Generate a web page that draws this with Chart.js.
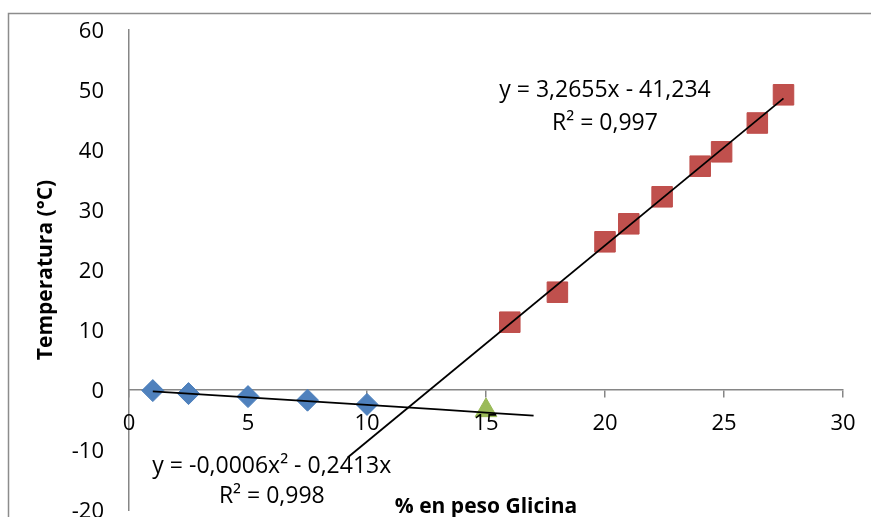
<!DOCTYPE html>
<html>
<head>
<meta charset="utf-8">
<script src="https://cdn.jsdelivr.net/npm/chart.js@4.4.1/dist/chart.umd.min.js"></script>
<style>
  body { margin: 0; background: #fff; overflow: hidden; }
  canvas { display: block; }
</style>
</head>
<body>
<canvas id="glicinaChart" width="871" height="517"></canvas>
<script>
// data
const blueX = [1, 2.5, 5, 7.5, 10];
const blueY = [-0.1, -0.6, -1.1, -1.7, -2.4];
const redX = [16, 18, 20, 21, 22.4, 24, 24.9, 26.4, 27.5];
const redY = [11.3, 16.3, 24.7, 27.7, 32.2, 37.3, 39.7, 44.5, 49.2];
const greenX = [15];
const greenY = [-3.4];

// trendlines (points along the fitted curves shown in the chart)
const polyTrendX = [1, 5, 9, 13, 17];
const polyTrendY = [-0.24, -1.22, -2.22, -3.24, -4.28];
const linTrendX = [9.2, 27.5];
const linTrendY = [-11.2, 48.6];

const xTicks = [0, 5, 10, 15, 20, 25, 30];
const yTicks = [-20, -10, 0, 10, 20, 30, 40, 50, 60];

const eqLinear = ["y = 3,2655x - 41,234", "R² = 0,997"];
const eqPoly = ["y = -0,0006x² - 0,2413x", "R² = 0,998"];
const xTitle = "% en peso Glicina";
const yTitle = "Temperatura (°C)";

function toPoints(xs, ys) {
    return xs.map((x, i) => ({ x: x, y: ys[i] }));
}

const FONT = "'Open Sans', 'DejaVu Sans', sans-serif";
const AXIS_GRAY = "#868686";

// frame, axis titles and trendline equations
const extrasPlugin = {
    id: "extras",
    beforeDraw(chart) {
        const ctx = chart.ctx;
        ctx.save();
        ctx.fillStyle = "#fff";
        ctx.fillRect(0, 0, chart.width, chart.height);
        ctx.strokeStyle = "#8c8c8c";
        ctx.lineWidth = 1.5;
        ctx.beginPath();
        ctx.moveTo(8.5, chart.height);
        ctx.lineTo(8.5, 13.5);
        ctx.lineTo(chart.width, 13.5);
        ctx.stroke();
        ctx.restore();
    },
    afterDraw(chart) {
        const ctx = chart.ctx;
        const xs = chart.scales.x;
        const ys = chart.scales.y;
        const area = chart.chartArea;
        ctx.save();
        ctx.fillStyle = "#000";
        ctx.textAlign = "center";
        ctx.textBaseline = "middle";

        ctx.font = "23px " + FONT;
        ctx.fillText(eqLinear[0], xs.getPixelForValue(20.0), ys.getPixelForValue(50.0));
        ctx.fillText(eqLinear[1], xs.getPixelForValue(20.0), ys.getPixelForValue(44.4));
        ctx.fillText(eqPoly[0], xs.getPixelForValue(6.0), ys.getPixelForValue(-12.7));
        ctx.fillText(eqPoly[1], xs.getPixelForValue(6.0), ys.getPixelForValue(-17.7));

        ctx.font = "bold 21px " + FONT;
        ctx.fillText(xTitle, (area.left + area.right) / 2, 507);

        ctx.translate(46, (area.top + area.bottom) / 2);
        ctx.rotate(-Math.PI / 2);
        ctx.fillText(yTitle, 0, 0);
        ctx.restore();
    }
};

const ctx = document.getElementById("glicinaChart").getContext("2d");
new Chart(ctx, {
    type: "scatter",
    data: {
        datasets: [
            {
                label: "Tendencia lineal",
                data: toPoints(linTrendX, linTrendY),
                showLine: true,
                borderColor: "#000",
                borderWidth: 1.8,
                pointRadius: 0,
                order: 0
            },
            {
                label: "Tendencia polinómica",
                data: toPoints(polyTrendX, polyTrendY),
                showLine: true,
                borderColor: "#000",
                borderWidth: 1.8,
                pointRadius: 0,
                tension: 0.4,
                order: 0
            },
            {
                label: "Hielo",
                data: toPoints(blueX, blueY),
                pointStyle: "rectRot",
                pointRadius: 11,
                backgroundColor: "#4F81BD",
                borderColor: "#4A7EBB",
                borderWidth: 1,
                order: 1
            },
            {
                label: "Glicina",
                data: toPoints(redX, redY),
                pointStyle: "rect",
                pointRadius: 14.5,
                backgroundColor: "#C0504D",
                borderColor: "#BE4B48",
                borderWidth: 1,
                order: 1
            },
            {
                label: "Eutéctico",
                data: toPoints(greenX, greenY),
                pointStyle: "triangle",
                pointRadius: 12.5,
                backgroundColor: "#9BBB59",
                borderColor: "#98B954",
                borderWidth: 1,
                order: 1
            }
        ]
    },
    options: {
        responsive: false,
        animation: false,
        devicePixelRatio: 1,
        clip: false,
        layout: { autoPadding: false, padding: { left: 0, top: 30, right: 28, bottom: 7 } },
        plugins: {
            legend: { display: false },
            tooltip: { enabled: false }
        },
        scales: {
            x: {
                type: "linear",
                position: { y: 0 },
                min: 0,
                max: 30,
                afterBuildTicks: (scale) => { scale.ticks = xTicks.map(v => ({ value: v })); },
                ticks: {
                    color: "#000",
                    font: { family: FONT, size: 22 },
                    maxRotation: 0,
                    z: 1
                },
                grid: {
                    display: true,
                    drawOnChartArea: false,
                    drawTicks: true,
                    tickLength: 18,
                    tickBorderDash: [7, 40],
                    color: AXIS_GRAY,
                    lineWidth: 1.5
                },
                border: { display: true, color: AXIS_GRAY, width: 1.5 },
                afterFit: (scale) => {
                    scale.paddingLeft = 0;
                    scale.paddingRight = 0;
                }
            },
            y: {
                type: "linear",
                position: "left",
                min: -20,
                max: 60,
                afterBuildTicks: (scale) => { scale.ticks = yTicks.map(v => ({ value: v })); },
                ticks: {
                    color: "#000",
                    font: { family: FONT, size: 22 },
                    padding: 25,
                    labelOffset: 2
                },
                grid: { display: false, drawTicks: false },
                border: { display: true, color: AXIS_GRAY, width: 1.5 },
                afterFit: (scale) => {
                    scale.width = 129;
                    scale.paddingTop = 0;
                    scale.paddingBottom = 0;
                }
            }
        }
    },
    plugins: [extrasPlugin]
});
</script>
</body>
</html>
